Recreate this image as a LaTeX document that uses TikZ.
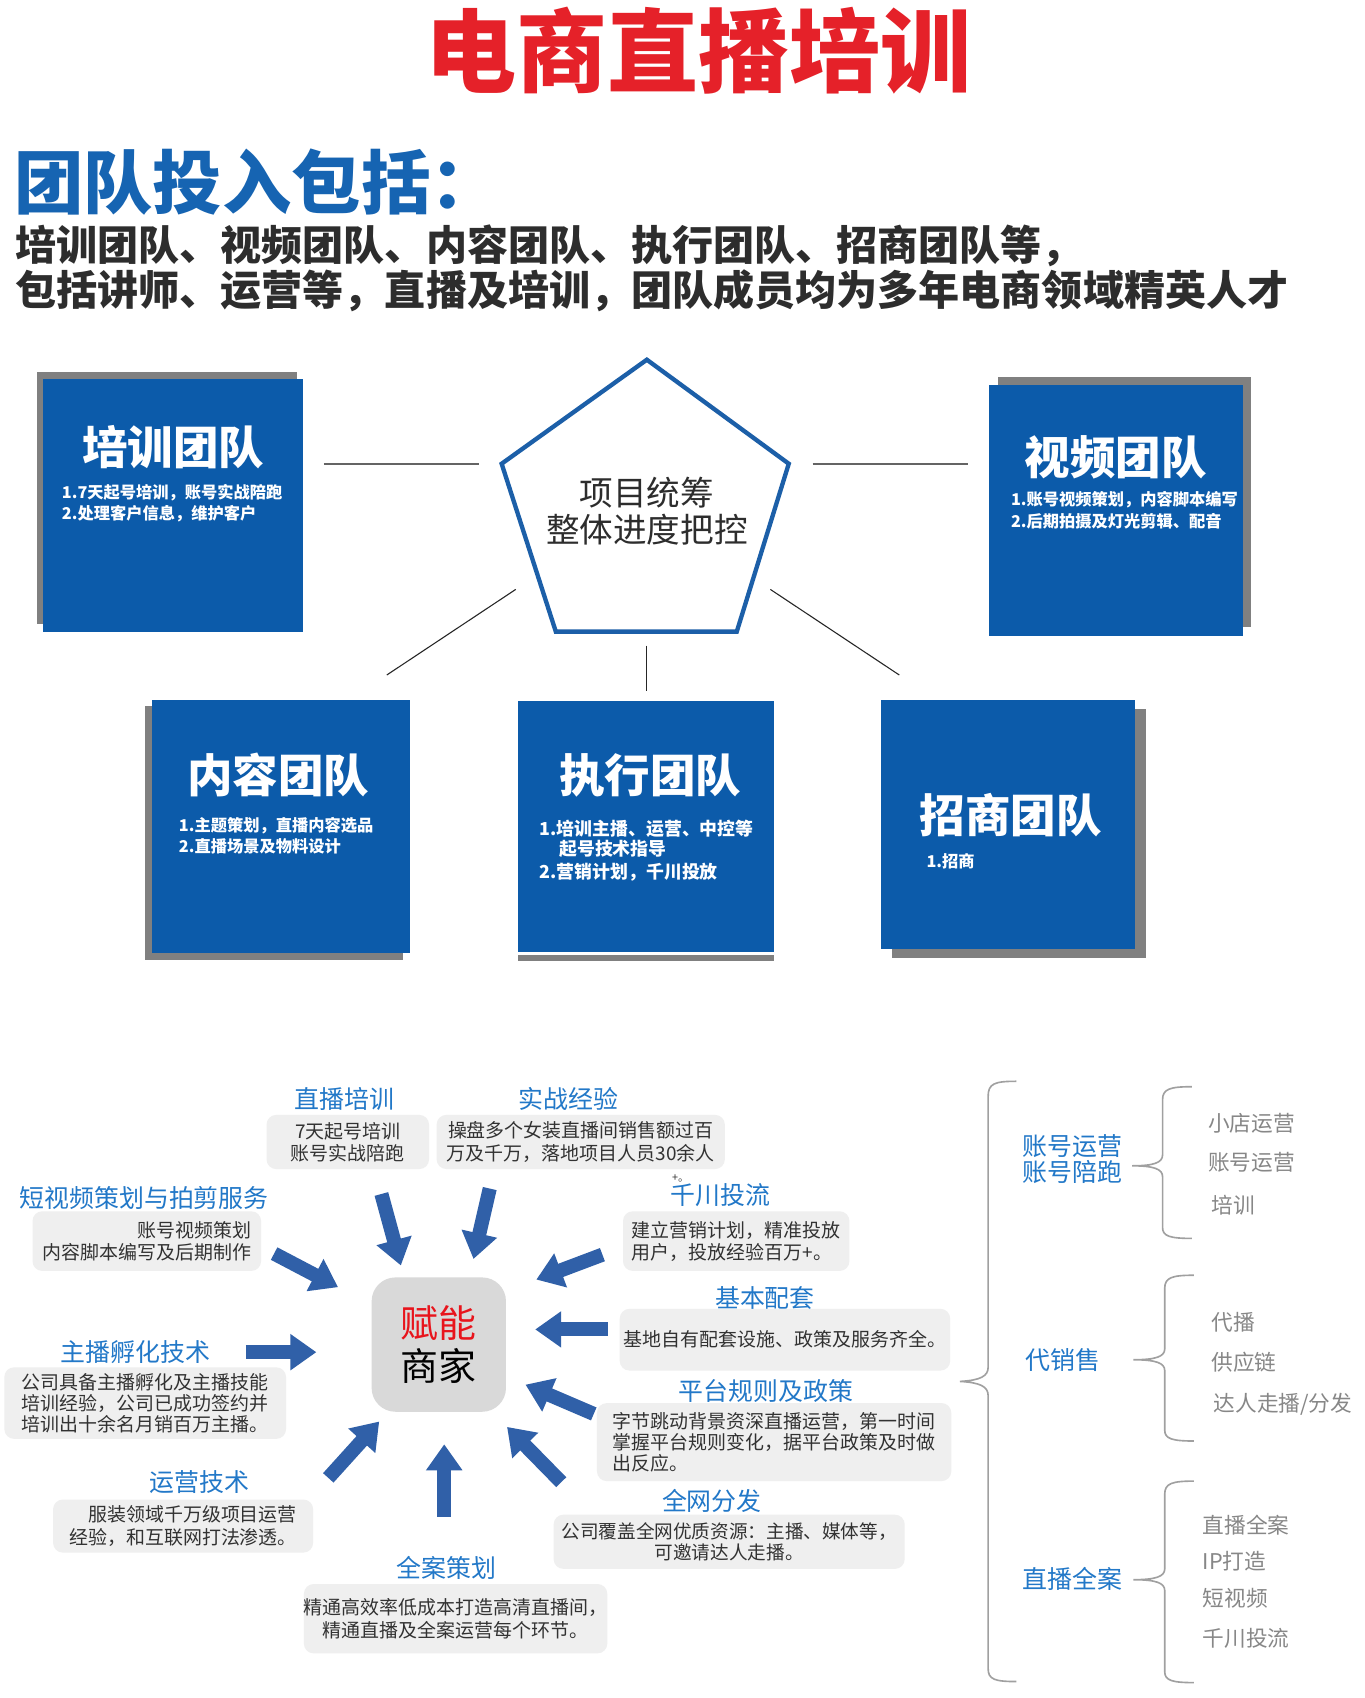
\documentclass[tikz,border=0pt]{standalone}
\usepackage{fontspec}
\setmainfont{Noto Sans CJK SC}
\usetikzlibrary{arrows.meta}
\definecolor{titlered}{RGB}{229,33,41}
\definecolor{headblue}{RGB}{22,100,178}
\definecolor{darktext}{RGB}{45,45,45}
\definecolor{teamblue}{RGB}{12,91,170}
\definecolor{shadowgray}{RGB}{128,128,128}
\definecolor{pentblue}{RGB}{28,95,168}
\definecolor{connline}{RGB}{100,100,100}
\definecolor{lblblue}{RGB}{34,120,200}
\definecolor{boxgray}{RGB}{239,239,239}
\definecolor{textgray}{RGB}{50,50,50}
\definecolor{centergray}{RGB}{217,217,217}
\definecolor{arrowblue}{RGB}{48,96,168}
\definecolor{bracegray}{RGB}{160,160,160}
\definecolor{itemgray}{RGB}{135,135,135}
\definecolor{fnred}{RGB}{232,20,28}
\begin{document}
\begin{tikzpicture}[x=1pt,y=-1pt,
  teambox/.style={fill=teamblue, inner sep=0pt},
  ttl/.style={font=\fontsize{42}{46}\selectfont\bfseries, text=white, inner sep=0pt},
  sub/.style={font=\fontsize{15}{18}\selectfont\bfseries, text=white, anchor=west, inner sep=0pt},
  subl/.style={font=\fontsize{16.5}{19}\selectfont\bfseries, text=white, anchor=west, inner sep=0pt},
  lbl/.style={font=\fontsize{23}{24}\selectfont, text=lblblue, inner sep=0pt, align=center},
  gbox/.style={fill=boxgray, rounded corners=9pt, inner sep=0pt, text=textgray, font=\fontsize{17.5}{20.5}\selectfont},
  blockarrow/.style={line width=13pt, draw=arrowblue, -{Triangle[length=24pt,width=32pt]}},
  brace/.style={draw=bracegray, line width=1.5pt},
  item/.style={font=\fontsize{20}{22}\selectfont, text=itemgray, anchor=west, inner sep=0pt},
  thinconn/.style={draw=black!85, line width=1pt},
  thickconn/.style={draw=connline, line width=2.2pt}]
\useasboundingbox (0,0) rectangle (1259,1567.2);
\fill[white] (0,0) rectangle (1259,1567.2);

% ---------- header ----------
\node[font=\fontsize{84}{90}\selectfont\bfseries, text=titlered, inner sep=0pt] (title) at (645,47) {电商直播培训};
\node[anchor=west, font=\fontsize{64}{70}\selectfont\bfseries, text=headblue, inner sep=0pt] (head) at (13,168) {团队投入包括：};
\node[anchor=west, font=\fontsize{37.9}{40}\selectfont\bfseries, text=darktext, inner sep=0pt] (line1) at (14,227) {培训团队、视频团队、内容团队、执行团队、招商团队等，};
\node[anchor=west, font=\fontsize{37.9}{40}\selectfont\bfseries, text=darktext, inner sep=0pt] (line2) at (14,268) {包括讲师、运营等，直播及培训，团队成员均为多年电商领域精英人才};

% ---------- team boxes ----------
% A  培训团队
\fill[shadowgray] (34,343) rectangle (274,576);
\node[teambox, minimum width=240pt, minimum height=233pt] (tA) at (160,466.5) {};
\node[ttl] (tAt) at (160,413) {培训团队};
\node[sub] (tAs1) at (57,455) {1.7天起号培训，账号实战陪跑};
\node[sub] (tAs2) at (57,474) {2.处理客户信息，维护客户};
% B  视频团队
\fill[shadowgray] (921,348) rectangle (1155,579);
\node[teambox, minimum width=234pt, minimum height=232pt] (tB) at (1030,471) {};
\node[ttl] (tBt) at (1030,422) {视频团队};
\node[sub] (tBs1) at (933,461) {1.账号视频策划，内容脚本编写};
\node[sub] (tBs2) at (933,481) {2.后期拍摄及灯光剪辑、配音};
% C  内容团队
\fill[shadowgray] (134,652) rectangle (372,886);
\node[teambox, minimum width=238pt, minimum height=234pt] (tC) at (259,763) {};
\node[ttl] (tCt) at (257,715) {内容团队};
\node[sub] (tCs1) at (165,762) {1.主题策划，直播内容选品};
\node[sub] (tCs2) at (165,781) {2.直播场景及物料设计};
% D  执行团队
\fill[shadowgray] (478,881) rectangle (714,887);
\node[teambox, minimum width=236pt, minimum height=232pt] (tD) at (596,763) {};
\node[ttl] (tDt) at (600,716) {执行团队};
\node[subl] (tDs1) at (498,765) {1.培训主播、运营、中控等};
\node[subl] (tDs2) at (516,783) {起号技术指导};
\node[subl] (tDs3) at (498,805) {2.营销计划，千川投放};
% E  招商团队
\fill[shadowgray] (823,654) rectangle (1058,884);
\node[teambox, minimum width=235pt, minimum height=230pt] (tE) at (930.5,761) {};
\node[ttl] (tEt) at (933,752) {招商团队};
\node[sub] (tEs1) at (855,795) {1.招商};

% ---------- pentagon ----------
\draw[pentblue, line width=4pt, line join=miter] (597,332) -- (728,428) -- (680,583) -- (513,583) -- (463,428) -- cycle;
\node[font=\fontsize{31}{34}\selectfont, text=darktext, align=center, inner sep=0pt] (pent) at (597,472) {项目统筹\\整体进度把控};

% connectors
\coordinate (cA1) at (299,428); \coordinate (cA2) at (442,428);
\coordinate (cB1) at (750,428); \coordinate (cB2) at (893,428);
\coordinate (cC1) at (476,544); \coordinate (cC2) at (357,623);
\coordinate (cD1) at (597,596); \coordinate (cD2) at (597,638);
\coordinate (cE1) at (711,544); \coordinate (cE2) at (830,623);
\draw[thickconn] (cA1) -- (cA2);
\draw[thickconn] (cB1) -- (cB2);
\draw[thinconn] (cC1) -- (cC2);
\draw[thinconn] (cD1) -- (cD2);
\draw[thinconn] (cE1) -- (cE2);

% ---------- bottom: radial diagram ----------
\node[fill=centergray, rounded corners=22pt, minimum width=124pt, minimum height=124pt, inner sep=0pt, align=center, font=\fontsize{35}{40}\selectfont, text=black] (cn) at (405,1241) {\textcolor{fnred}{赋能}\\商家};

\node[lbl] (t1) at (318,1014) {直播培训};
\node[gbox, minimum width=150pt, minimum height=50pt, align=center] (b1) at (321,1054) {7天起号培训\\账号实战陪跑};

\node[lbl] (t2) at (525,1014) {实战经验};
\node[gbox, minimum width=266pt, minimum height=50pt, align=center] (b2) at (536,1054) {操盘多个女装直播间销售额过百\\万及千万，落地项目人员30余人};

\node[lbl] (t3) at (133,1106) {短视频策划与拍剪服务};
\node[gbox, minimum width=211pt, minimum height=55pt, align=right] (b3) at (135.5,1145.5) {账号视频策划\\内容脚本编写及后期制作};

\node[font=\fontsize{10}{10}\selectfont, text=textgray, inner sep=0pt] (plus) at (628,1088) {+。};
\node[lbl] (t4) at (665,1103) {千川投流};
\node[gbox, minimum width=209pt, minimum height=55pt, align=left] (b4) at (679.5,1145.5) {建立营销计划，精准投放\\用户，投放经验百万+。};

\node[lbl] (t5) at (706,1198) {基本配套};
\node[gbox, minimum width=305pt, minimum height=57pt, align=center] (b5) at (724.5,1236.5) {基地自有配套设施、政策及服务齐全。};

\node[lbl] (t6) at (125,1248) {主播孵化技术};
\node[gbox, minimum width=260pt, minimum height=66pt, align=left, font=\fontsize{17.5}{19.5}\selectfont] (b6) at (134,1295) {公司具备主播孵化及主播技能\\培训经验，公司已成功签约并\\培训出十余名月销百万主播。};

\node[lbl] (t7) at (707,1284) {平台规则及政策};
\node[gbox, minimum width=327pt, minimum height=72pt, align=left, font=\fontsize{17.5}{19.5}\selectfont] (b7) at (714.5,1331) {字节跳动背景资深直播运营，第一时间\\掌握平台规则变化，据平台政策及时做\\出反应。};

\node[lbl] (t8) at (184,1368) {运营技术};
\node[gbox, minimum width=240pt, minimum height=49pt, align=right] (b8) at (169,1408.5) {服装领域千万级项目运营\\经验，和互联网打法渗透。};

\node[lbl] (t9) at (657,1385) {全网分发};
\node[gbox, minimum width=324pt, minimum height=50pt, align=center, font=\fontsize{17.2}{20}\selectfont] (b9) at (673,1423) {公司覆盖全网优质资源：主播、媒体等，\\可邀请达人走播。};

\node[lbl] (t10) at (412,1447) {全案策划};
\node[gbox, minimum width=279pt, minimum height=64pt, align=center] (b10) at (420.5,1494) {精通高效率低成本打造高清直播间，\\精通直播及全案运营每个环节。};

% arrows
\coordinate (a1s) at (352,1102); \coordinate (a1e) at (370,1168);
\coordinate (a2s) at (452,1097); \coordinate (a2e) at (437,1162);
\coordinate (a3s) at (253,1157); \coordinate (a3e) at (312,1188);
\coordinate (a4s) at (556,1158); \coordinate (a4e) at (495,1181);
\coordinate (a5s) at (227,1248); \coordinate (a5e) at (292,1248);
\coordinate (a6s) at (561,1227); \coordinate (a6e) at (494,1227);
\coordinate (a7s) at (548,1305); \coordinate (a7e) at (485,1278);
\coordinate (a8s) at (303,1364); \coordinate (a8e) at (350,1312);
\coordinate (a9s) at (410,1400); \coordinate (a9e) at (410,1333);
\coordinate (a10s) at (518,1368); \coordinate (a10e) at (468,1317);
\foreach \i in {1,...,10} {\draw[blockarrow] (a\i s) -- (a\i e);}

% ---------- braces ----------
\draw[brace] (938,998) .. controls (918,998) and (912,1000) .. (912,1012) -- (912,1262)
  .. controls (912,1270) and (905,1274) .. (886,1275) .. controls (905,1276) and (912,1280) .. (912,1288)
  -- (912,1540) .. controls (912,1550) and (918,1552) .. (938,1552);
\draw[brace] (1100,1003) .. controls (1080,1003) and (1073,1005) .. (1073,1015) -- (1073,1066)
  .. controls (1073,1073) and (1065,1076) .. (1045,1076) .. controls (1065,1076) and (1073,1079) .. (1073,1086)
  -- (1073,1133) .. controls (1073,1141) and (1080,1143) .. (1100,1143);
\draw[brace] (1102,1177) .. controls (1082,1177) and (1075,1179) .. (1075,1189) -- (1075,1245)
  .. controls (1075,1252) and (1067,1255) .. (1046,1255) .. controls (1067,1255) and (1075,1258) .. (1075,1265)
  -- (1075,1320) .. controls (1075,1328) and (1082,1330) .. (1102,1330);
\draw[brace] (1102,1367) .. controls (1082,1367) and (1075,1369) .. (1075,1379) -- (1075,1448)
  .. controls (1075,1455) and (1067,1458) .. (1046,1458) .. controls (1067,1458) and (1075,1461) .. (1075,1468)
  -- (1075,1543) .. controls (1075,1551) and (1082,1553) .. (1102,1553);

\node[lbl] (r1) at (990,1070) {账号运营\\账号陪跑};
\node[lbl] (r2) at (981,1255) {代销售};
\node[lbl] (r3) at (990,1457) {直播全案};

\node[item] (i11) at (1115,1037) {小店运营};
\node[item] (i12) at (1115,1073) {账号运营};
\node[item] (i13) at (1118,1112) {培训};
\node[item] (i21) at (1118,1220) {代播};
\node[item] (i22) at (1118,1257) {供应链};
\node[item] (i23) at (1120,1296) {达人走播/分发};
\node[item] (i31) at (1110,1408) {直播全案};
\node[item] (i32) at (1110,1441) {IP打造};
\node[item] (i33) at (1110,1475) {短视频};
\node[item] (i34) at (1110,1512) {千川投流};
\end{tikzpicture}
\end{document}
